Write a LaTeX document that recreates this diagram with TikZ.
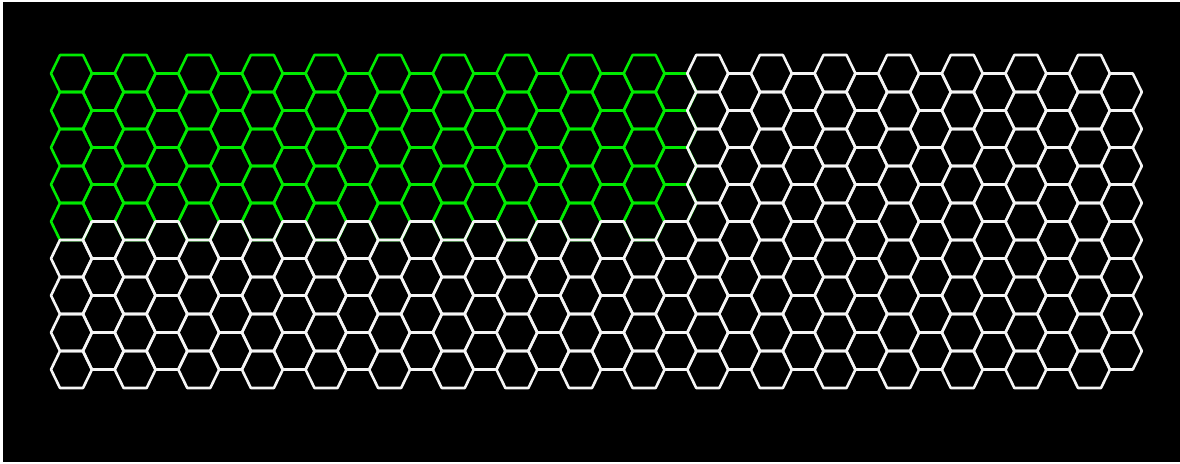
\documentclass[tikz,border=0pt]{standalone}
\usepackage{xcolor}
\usepackage{tikz}
\definecolor{hexgreen}{RGB}{0,235,0}
\definecolor{hexwhite}{RGB}{245,245,245}
\tikzset{
  hexline/.style={line width=1.3pt, line join=round},
  greenhex/.style={hexline, draw=hexgreen},
  whitehex/.style={hexline, draw=hexwhite},
  pics/hexcell/.style={code={
    \draw[#1] (-20.5,0) -- (-11.5,-18.5) -- (11.5,-18.5) -- (20.5,0)
      -- (11.5,18.5) -- (-11.5,18.5) -- cycle;}}
}
\begin{document}
\begin{tikzpicture}[x=0.5pt, y=-0.5pt]
  % frame and black field
  \fill[white] (0,0) rectangle (1180,463);
  \fill[black] (3,2) rectangle (1180,462);
  \useasboundingbox (0,0) rectangle (1180,463);

  % green block, top left
  \foreach \k in {0,...,9} {
    \foreach \r in {0,...,4}
      \pic at ({71.5+63.625*\k},{73.5+37*\r}) {hexcell=greenhex};
    \foreach \r in {0,...,3}
      \pic at ({103.3+63.625*\k},{92+37*\r}) {hexcell=greenhex};
  }

  % white cells, even columns (9 rows)
  \foreach \k in {0,...,16} {
    \foreach \r in {0,...,8} {
      \pgfmathtruncatemacro{\isgreen}{(\k<10) && (\r<5)}
      \ifnum\isgreen=0
        \pic at ({71.5+63.625*\k},{73.5+37*\r}) {hexcell=whitehex};
      \fi
    }
  }
  % white cells, odd columns (8 rows)
  \foreach \k in {0,...,16} {
    \foreach \r in {0,...,7} {
      \pgfmathtruncatemacro{\isgreen}{(\k<10) && (\r<4)}
      \ifnum\isgreen=0
        \pic at ({103.3+63.625*\k},{92+37*\r}) {hexcell=whitehex};
      \fi
    }
  }
\end{tikzpicture}
\end{document}
